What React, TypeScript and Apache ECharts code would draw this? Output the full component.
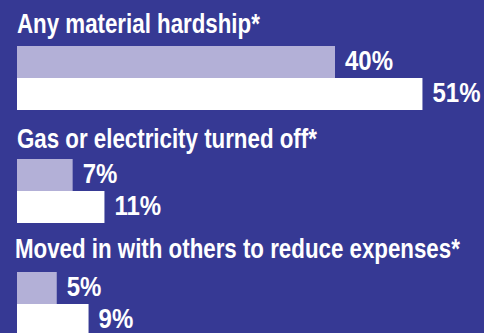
import React, { useEffect, useRef } from "react";
import * as echarts from "echarts";

const categories = [
  "Any material hardship*",
  "Gas or electricity turned off*",
  "Moved in with others to reduce expenses*",
];
const seriesA = [40, 7, 5];
const seriesB = [51, 11, 9];

const BG = "#363994";
const PURPLE = "#b3b0d7";
const WHITE = "#ffffff";
const FONT = "bold 28px 'Liberation Sans', Arial, sans-serif";

function measure(text: string): number {
  const c = document.createElement("canvas").getContext("2d")!;
  c.font = FONT;
  return c.measureText(text).width;
}

export default function App() {
  const ref = useRef<HTMLDivElement>(null);
  useEffect(() => {
    document.body.style.margin = "0";
    const chart = echarts.init(ref.current!, null, { renderer: "svg" });
    const gridTops = [46, 159, 272];
    const titleCenters = [23, 138.5, 248];
    const titleLefts = [17, 17, 15];
    const titleScale = 243 / measure(categories[0]);
    const labelScale = 48 / measure("40%");
    const pxPerUnit = 7.95;
    const max = 58;

    const option: any = {
      animation: false,
      backgroundColor: BG,
      graphic: categories.map((c, i) => ({
        type: "text",
        x: titleLefts[i],
        y: titleCenters[i],
        scaleX: titleScale,
        style: {
          text: c,
          fill: WHITE,
          font: FONT,
          align: "left",
          verticalAlign: "middle",
        },
      })),
      grid: categories.map((_, i) => ({
        left: 17,
        top: gridTops[i],
        width: max * pxPerUnit,
        height: 64,
        outerBoundsMode: "none",
      })),
      xAxis: categories.map((_, i) => ({
        type: "value",
        gridIndex: i,
        min: 0,
        max,
        show: false,
      })),
      yAxis: categories.map((_, i) => ({
        type: "category",
        gridIndex: i,
        inverse: true,
        data: ["A", "B"],
        show: false,
      })),
      series: [
        ...categories.map((_, i) => ({
          type: "bar",
          xAxisIndex: i,
          yAxisIndex: i,
          barWidth: 32,
          data: [
            { value: seriesA[i], itemStyle: { color: PURPLE } },
            { value: seriesB[i], itemStyle: { color: WHITE } },
          ],
        })),
        ...categories.map((_, i) => ({
          type: "custom",
          xAxisIndex: i,
          yAxisIndex: i,
          encode: { x: 0, y: 1 },
          data: [
            [seriesA[i], 0],
            [seriesB[i], 1],
          ],
          renderItem: (params: any, api: any) => {
            const v = api.value(0);
            const pt = api.coord([v, api.value(1)]);
            return {
              type: "text",
              x: pt[0] + 10,
              y: pt[1] - 2,
              scaleX: labelScale,
              style: {
                text: v + "%",
                fill: WHITE,
                font: FONT,
                align: "left",
                verticalAlign: "middle",
              },
            };
          },
        })),
      ],
    };
    chart.setOption(option);
    return () => chart.dispose();
  }, []);
  return <div ref={ref} style={{ width: 484, height: 333 }} />;
}
